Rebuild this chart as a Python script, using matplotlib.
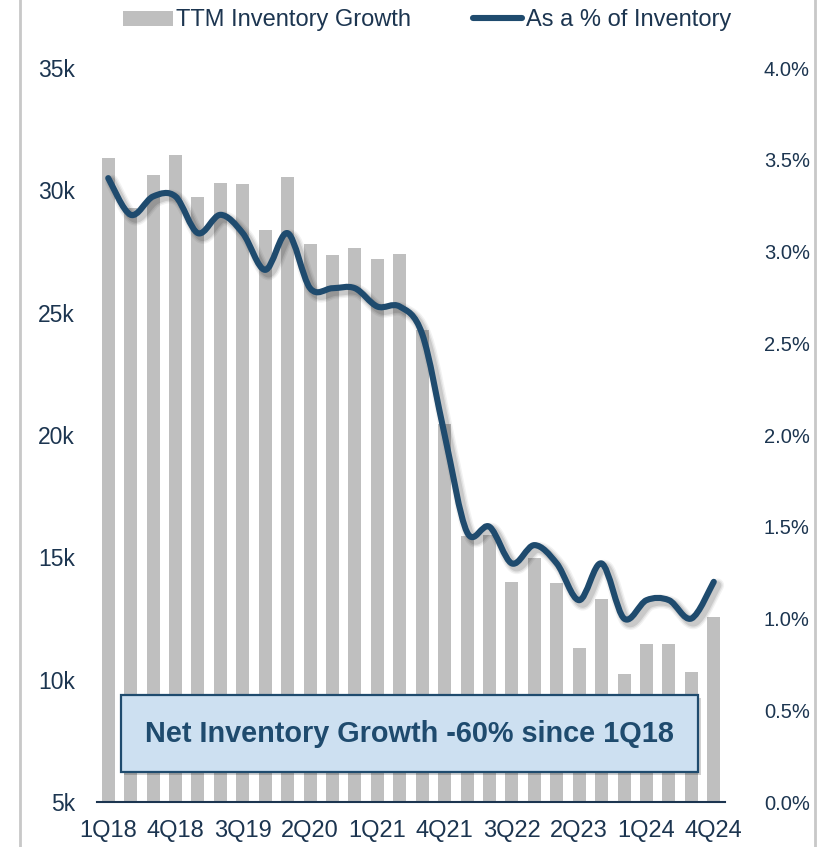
import numpy as np
import matplotlib
matplotlib.use('Agg')
import matplotlib.pyplot as plt
import matplotlib.patheffects as pe
from matplotlib.path import Path
from matplotlib.patches import PathPatch, Patch, Rectangle
from matplotlib.lines import Line2D
from matplotlib.ticker import FuncFormatter

plt.rcParams['font.family'] = ['Liberation Sans', 'DejaVu Sans']

# Quarterly data, 1Q18 - 4Q24
quarters = [f'{q}Q{y}' for y in range(18, 25) for q in range(1, 5)]
ttm_growth = [31330, 29270, 30640, 31430, 29740, 30290, 30250, 28390,
              30560, 27810, 27360, 27630, 27190, 27380, 24290, 20450,
              15870, 15900, 13990, 14990, 13960, 11290, 13280, 10230,
              11470, 11470, 10330, 12560]
pct_of_inventory = [3.40, 3.20, 3.30, 3.30, 3.10, 3.20, 3.10, 2.90,
                    3.10, 2.80, 2.80, 2.80, 2.70, 2.70, 2.55, 2.00,
                    1.47, 1.50, 1.30, 1.40, 1.30, 1.10, 1.30, 1.00,
                    1.10, 1.10, 1.00, 1.20]
tick_every = 3

TEXT = '#1c3550'
LINE = '#1f4b6e'
BAR = '#bfbfbf'


def smooth_path(x, y):
    # Catmull-Rom style bezier through every point (like a spreadsheet "smoothed line")
    pts = np.column_stack([x, y])
    verts = [pts[0]]
    codes = [Path.MOVETO]
    n = len(pts)
    for i in range(n - 1):
        p0 = pts[max(i - 1, 0)]
        p1 = pts[i]
        p2 = pts[i + 1]
        p3 = pts[min(i + 2, n - 1)]
        c1 = p1 + (p2 - p0) / 6.0
        c2 = p2 - (p3 - p1) / 6.0
        verts += [c1, c2, p2]
        codes += [Path.CURVE4] * 3
    return Path(verts, codes)


fig = plt.figure(figsize=(8.18, 8.47), dpi=100)
ax = fig.add_axes([0.1186, 0.0531, 0.7677, 0.8666])
ax2 = ax.twinx()

x = np.arange(len(quarters))
ax.bar(x, ttm_growth, width=0.58, color=BAR, zorder=2)
ax.set_xlim(-0.5, len(quarters) - 0.5)
ax.set_ylim(5000, 35000)
ax.set_yticks(np.arange(5000, 35001, 5000))
ax.yaxis.set_major_formatter(FuncFormatter(lambda v, p: f'{int(v / 1000)}k'))
ax.set_xticks(x[::tick_every])
ax.set_xticklabels(quarters[::tick_every])

ax2.set_ylim(0, 4.0)
ax2.set_yticks(np.arange(0, 4.01, 0.5))
ax2.yaxis.set_major_formatter(FuncFormatter(lambda v, p: f'{v:.1f}%'))

# smoothed line with a soft drop shadow
path = smooth_path(x.astype(float), np.array(pct_of_inventory))
shadow = [pe.SimpleLineShadow(offset=(2.5, -2.5), shadow_color='#000000', alpha=a, linewidth=w)
          for a, w in [(0.05, 10), (0.07, 8), (0.1, 6)]]
line_patch = PathPatch(path, facecolor='none', edgecolor=LINE, lw=4.4,
                       capstyle='round', joinstyle='round', zorder=5,
                       path_effects=shadow + [pe.Normal()])
ax2.add_patch(line_patch)

for a in (ax, ax2):
    for s in a.spines.values():
        s.set_visible(False)
    a.tick_params(length=0, labelsize=16.5, colors=TEXT)
ax.spines['bottom'].set_visible(True)
ax.spines['bottom'].set_color(TEXT)
ax.spines['bottom'].set_linewidth(1.5)
ax.tick_params(axis='x', labelsize=17, pad=13)
ax.tick_params(axis='y', pad=16)
ax2.tick_params(axis='y', pad=28, labelsize=14.5)

# callout box
box_x0, box_x1 = 121 / 818, 698 / 818
box_y0, box_y1 = 1 - 772 / 847, 1 - 695 / 847
fig.patches.append(Rectangle((box_x0 + 0.004, box_y0 - 0.004), box_x1 - box_x0, box_y1 - box_y0,
                             transform=fig.transFigure, facecolor='#000000', alpha=0.18,
                             edgecolor='none', zorder=6))
fig.patches.append(Rectangle((box_x0, box_y0), box_x1 - box_x0, box_y1 - box_y0,
                             transform=fig.transFigure, facecolor='#cde0f1',
                             edgecolor='#1f4b6e', lw=1.6, zorder=7))
fig.text((box_x0 + box_x1) / 2, (box_y0 + box_y1) / 2, 'Net Inventory Growth -60% since 1Q18',
         ha='center', va='center', fontsize=20.8, fontweight='bold', color='#1f4b6e', zorder=8)

# side frame lines
for fx in (20 / 818, 815 / 818):
    fig.add_artist(Line2D([fx, fx], [0, 1], transform=fig.transFigure, color='#c8c8c8', lw=2))

handles = [Patch(facecolor=BAR, edgecolor='none'),
           Line2D([0], [0], color=LINE, lw=4.4, solid_capstyle='round')]
fig.legend(handles, ['TTM Inventory Growth', 'As a % of Inventory'], loc='center',
           bbox_to_anchor=(0.522, 0.976), ncol=2, frameon=False, fontsize=17,
           handlelength=2.1, handleheight=0.6, handletextpad=0.15, columnspacing=2.6,
           labelcolor=TEXT)

fig.savefig('out.png', dpi=100)
